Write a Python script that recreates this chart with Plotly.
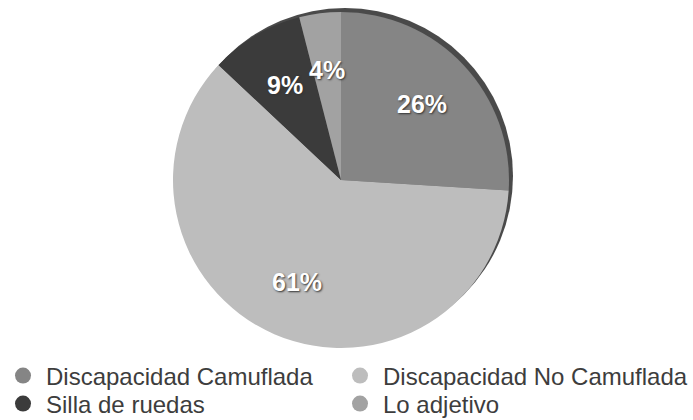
import math
import plotly.graph_objects as go

# Survey shares
categories = ["Discapacidad Camuflada", "Discapacidad No Camuflada",
              "Silla de ruedas", "Lo adjetivo"]
values = [26, 61, 9, 4]
colors = ["#858585", "#bdbdbd", "#3b3b3b", "#a2a2a2"]

W, H = 693, 420
# pie geometry in pixels
cx, cy, r = 341, 180, 168
label_frac = 0.66
# legend grid: column x of the swatch block, row y centre
legend_cols = [0, 337]
legend_rows = [376, 404]

fig = go.Figure()

# darker rim behind the disc, giving a slight depth on the upper right
fig.add_shape(type="circle", xref="paper", yref="paper", layer="below",
              x0=(cx - r + 4) / W, x1=(cx + r + 4) / W,
              y0=1 - (cy + r - 4) / H, y1=1 - (cy - r - 4) / H,
              fillcolor="#4a4a4a", line=dict(width=0))

fig.add_trace(go.Pie(
    labels=categories,
    values=values,
    sort=False,
    direction="clockwise",
    rotation=0,
    marker=dict(colors=colors, line=dict(width=0)),
    textinfo="none",
    showlegend=False,
    hoverinfo="label+percent",
    domain=dict(x=[(cx - r) / W, (cx + r) / W],
                y=[1 - (cy + r) / H, 1 - (cy - r) / H]),
))

# percentage labels placed at each slice's mid-angle
total = sum(values)
cum = 0
for v in values:
    mid = (cum + v / 2) / total
    cum += v
    th = 2 * math.pi * mid
    px = cx + label_frac * r * math.sin(th)
    py = cy - label_frac * r * math.cos(th)
    fig.add_annotation(
        x=px / W, y=1 - py / H, xref="paper", yref="paper",
        xanchor="center", yanchor="middle",
        text=f"{round(100 * v / total)}%", showarrow=False,
        font=dict(family="Liberation Sans", size=25, color="white",
                  weight="bold", shadow="1px 1px 2px #333"),
    )

# one legend box per entry, arranged as a 2x2 grid
legend_layout = {}
for i, (name, col) in enumerate(zip(categories, colors)):
    key = "legend" if i == 0 else f"legend{i + 1}"
    fig.add_trace(go.Scatter(
        x=[None], y=[None], mode="markers", name=name,
        marker=dict(symbol="circle", size=20, color=col),
        showlegend=True, legend=key,
    ))
    legend_layout[key] = dict(
        orientation="v",
        x=legend_cols[i % 2] / W, xanchor="left",
        y=1 - legend_rows[i // 2] / H, yanchor="middle",
        font=dict(family="Liberation Sans", size=24, color="#3d3d3d"),
        itemwidth=36,
        bgcolor="rgba(0,0,0,0)",
    )

fig.update_layout(
    width=W, height=H,
    margin=dict(l=0, r=0, t=0, b=0, autoexpand=False),
    paper_bgcolor="white",
    plot_bgcolor="white",
    xaxis=dict(visible=False),
    yaxis=dict(visible=False),
    **legend_layout,
)

fig.write_html("out.html")
